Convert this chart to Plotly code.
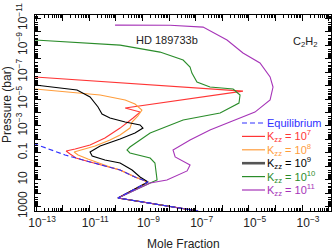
import numpy as np
import plotly.graph_objects as go

# ---- data (log10 pressure [bar], log10 mole fraction) ----
eq_logP = [-1.90, -1.65, -0.84, -0.32, 0.28, 0.80, 1.17, 2.36, 3.33]
eq_logX = [-13.38, -13.04, -11.91, -10.97, -9.84, -9.28, -8.79, -9.92, -6.91]

k7_logP = [-6.64, -5.59, -4.33, -4.03, -3.59, -2.84, -2.10, -1.58, -1.28, -1.13, -0.91,
           -0.61, -0.32, 0.28, 0.80, 1.17, 2.36, 3.33]
k7_logX = [-13.04, -5.22, -9.65, -9.09, -9.35, -9.84, -10.41, -10.97, -11.53, -11.87, -11.72,
           -11.50, -10.97, -9.84, -9.28, -8.79, -9.92, -6.91]

k8_logP = [-5.74, -5.30, -4.93, -4.63, -4.18, -3.74, -3.29, -2.84, -2.32, -1.95, -1.51, -1.21,
           -1.06, -0.84, -0.54, 0.06, 0.28, 0.80, 1.17, 2.36, 3.33]
k8_logX = [-13.04, -10.59, -9.65, -9.28, -9.02, -9.17, -9.39, -9.47, -9.84, -10.22, -10.78, -11.35,
           -11.57, -11.42, -11.05, -10.22, -9.84, -9.28, -8.79, -9.92, -6.91]

k9_logP = [-6.04, -5.67, -5.15, -4.41, -3.88, -3.59, -3.29, -3.07, -2.84, -2.47, -2.03, -1.51,
           -1.06, -0.76, -0.46, -0.24, 0.28, 0.80, 1.17, 2.36, 3.33]
k9_logX = [-13.04, -11.46, -10.97, -10.67, -10.52, -10.22, -9.65, -9.09, -8.98, -9.28, -9.84, -10.59,
           -10.97, -10.89, -10.41, -9.84, -9.39, -9.09, -8.79, -9.92, -6.91]

k10_logP = [-9.39, -9.01, -8.49, -7.90, -7.38, -6.93, -6.26, -5.89, -5.74, -5.30, -4.70, -3.96,
            -3.44, -2.47, -1.43, -1.21, -0.99, -0.61, -0.24, 1.02, 1.25, 2.36, 3.33]
k10_logX = [-13.04, -9.84, -8.34, -7.47, -7.21, -7.14, -6.95, -6.46, -5.59, -5.33, -5.37, -6.08,
            -7.47, -8.71, -9.47, -9.58, -9.47, -8.71, -8.53, -8.45, -8.71, -9.92, -6.91]

k11_logP = [-10.50, -10.49, -10.35, -9.39, -8.42, -7.68, -6.64, -5.89, -4.93, -4.03, -3.29, -2.70,
            -1.95, -1.21, -0.69, -0.09, 0.35, 1.02, 1.25, 2.36, 3.33]
k11_logX = [-10.03, -7.96, -6.72, -5.82, -5.22, -4.58, -4.20, -4.09, -4.20, -4.77, -5.71, -6.46,
            -7.21, -7.85, -7.77, -7.21, -7.32, -8.08, -8.71, -9.92, -6.91]

x_tick_exp = list(range(-13, -1))
x_label_exp = [-13, -11, -9, -7, -5, -3]
y_tick_exp = list(range(-11, 4))
y_labels = {-11: "10<sup>−11</sup>", -9: "10<sup>−9</sup>", -7: "10<sup>−7</sup>",
            -5: "10<sup>−5</sup>", -3: "10<sup>−3</sup>", -1: "0.1", 1: "10", 3: "1000"}

legend_names = ["Equilibrium",
                "K<sub>zz</sub> = 10<sup>7</sup>", "K<sub>zz</sub> = 10<sup>8</sup>",
                "K<sub>zz</sub> = 10<sup>9</sup>", "K<sub>zz</sub> = 10<sup>10</sup>",
                "K<sub>zz</sub> = 10<sup>11</sup>"]

# ---- styles ----
FONT = "Liberation Sans, Arial, sans-serif"
C_EQ = "#3030ff"
C7, C8, C9, C10, C11 = "#ff3535", "#ff9d3c", "#000000", "#2a8c2a", "#a634b8"
leg_line_colors = [C_EQ, C7, C8, "#555555", C10, C11]
leg_text_colors = [C_EQ, C7, C8, "#000000", C10, C11]
leg_line_widths = [1.2, 1.2, 1.2, 2.6, 1.2, 1.2]
leg_dash = ["5px,3px", None, None, None, None, None]

fig = go.Figure()

curves = [(k7_logP, k7_logX, C7), (k8_logP, k8_logX, C8), (k9_logP, k9_logX, C9),
          (k10_logP, k10_logX, C10), (k11_logP, k11_logX, C11)]
for lp, lx, col in curves:
    fig.add_trace(go.Scatter(x=np.power(10.0, lx), y=np.power(10.0, lp), mode="lines",
                             line=dict(color=col, width=1.1), showlegend=False,
                             hoverinfo="skip"))
fig.add_trace(go.Scatter(x=np.power(10.0, eq_logX), y=np.power(10.0, eq_logP), mode="lines",
                         line=dict(color=C_EQ, width=1.1, dash="5px,3px"), showlegend=False,
                         hoverinfo="skip"))

# plot-area geometry in pixels (for placing text)
L, R, T, B = 35, 331, 15, 211
W, H = R - L, B - T


def px(x):
    return (x - L) / W


def py(y):
    return (B - y) / H


minor_x = [m * 10.0 ** k for k in range(-14, -1) for m in range(2, 10)]
minor_y = [m * 10.0 ** k for k in range(-12, 4) for m in range(2, 10)]

fig.update_xaxes(type="log", range=[-13.04, -1.91], automargin=False,
                 tickmode="array", tickvals=[10.0 ** k for k in x_tick_exp],
                 ticktext=[("10<sup>−%d</sup>" % -k) if k in x_label_exp else "" for k in x_tick_exp],
                 ticks="inside", ticklen=6, tickwidth=1, tickcolor="#000",
                 showline=True, linecolor="#000", linewidth=1, mirror="ticks",
                 showgrid=False, zeroline=False,
                 minor=dict(tickmode="array", tickvals=minor_x, ticks="inside", ticklen=3,
                            tickcolor="#000", showgrid=False),
                 tickfont=dict(family=FONT, size=12, color="#222"),
                 ticklabelstandoff=1, ticklabelshift=6)
fig.update_yaxes(type="log", range=[3.33, -11.25], automargin=False,
                 tickmode="array", tickvals=[10.0 ** k for k in y_tick_exp],
                 ticktext=[y_labels.get(k, "") for k in y_tick_exp],
                 ticks="inside", ticklen=6, tickwidth=1, tickcolor="#000",
                 showline=True, linecolor="#000", linewidth=1, mirror="ticks",
                 showgrid=False, zeroline=False, tickangle=-90,
                 minor=dict(tickmode="array", tickvals=minor_y, ticks="inside", ticklen=3,
                            tickcolor="#000", showgrid=False),
                 tickfont=dict(family=FONT, size=12, color="#222"), ticklabelstandoff=2)

ann = [
    dict(text="HD 189733b", x=px(167), y=py(40), font=dict(size=11, color="#222")),
    dict(text="C<sub>2</sub>H<sub>2</sub>", x=px(305), y=py(42), font=dict(size=11, color="#222")),
    dict(text="Pressure (bar)", x=px(7), y=py(105), textangle=-90, font=dict(size=12, color="#222")),
    dict(text="Mole Fraction", x=0.5, y=py(244), font=dict(size=12, color="#222")),
]
for a in ann:
    fig.add_annotation(xref="paper", yref="paper", showarrow=False, xanchor="center",
                       yanchor="middle", **{k: v for k, v in a.items() if k != "font"},
                       font=dict(family=FONT, **a["font"]))

# legend (drawn manually, right-aligned block like the original)
for i, name in enumerate(legend_names):
    yy = py(123 + 13.4 * i)
    fig.add_shape(type="line", xref="paper", yref="paper", x0=px(242), x1=px(265), y0=yy, y1=yy,
                  line=dict(color=leg_line_colors[i], width=leg_line_widths[i],
                            dash=leg_dash[i] if leg_dash[i] else "solid"))
    fig.add_annotation(xref="paper", yref="paper", x=px(266), y=yy, text=name, showarrow=False,
                       xanchor="left", yanchor="middle", borderpad=0,
                       font=dict(family=FONT, size=11, color=leg_text_colors[i]))

fig.update_layout(width=332, height=250, margin=dict(l=L, r=332 - R, t=T, b=250 - B),
                  paper_bgcolor="white", plot_bgcolor="white", showlegend=False)

fig.write_html("out.html", config={"displayModeBar": False},
               post_script="document.body.style.margin='0';document.body.style.overflow='hidden';")
